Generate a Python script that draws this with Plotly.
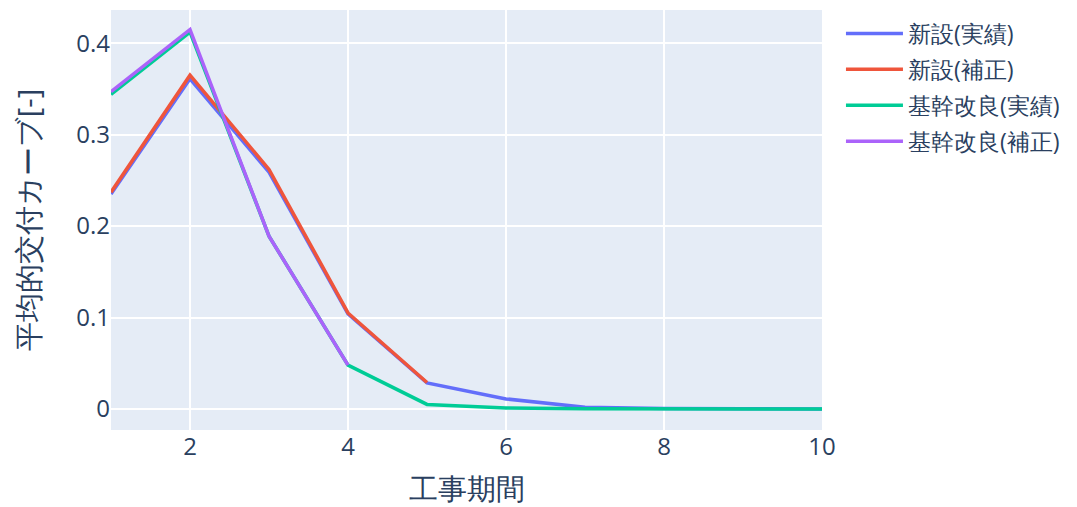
import plotly.graph_objects as go

x_new = [1, 2, 3, 4, 5, 6, 7, 8, 9, 10]
new_actual = [0.235, 0.361, 0.259, 0.104, 0.0284, 0.011, 0.002, 0.0006, 0.0002, 0.0]
x_new_corr = [1, 2, 3, 4, 5]
new_corr = [0.237, 0.365, 0.262, 0.105, 0.029]
x_kk = [1, 2, 3, 4, 5, 6, 7, 8, 9, 10]
kk_actual = [0.344, 0.412, 0.189, 0.048, 0.005, 0.001, 0.0003, 0.0001, 0.0, 0.0]
x_kk_corr = [1, 2, 3, 4]
kk_corr = [0.347, 0.415, 0.189, 0.048]

LW = 3.5
fig = go.Figure()
fig.add_trace(go.Scatter(x=x_new, y=new_actual, mode="lines", name="新設(実績)", legendgroup="a",
                         line=dict(color="#636efa", width=LW)))
fig.add_trace(go.Scatter(x=x_new_corr, y=new_corr, mode="lines", name="新設(補正)", legendgroup="b",
                         line=dict(color="#EF553B", width=LW)))
fig.add_trace(go.Scatter(x=x_kk, y=kk_actual, mode="lines", name="基幹改良(実績)", legendgroup="c",
                         line=dict(color="#00cc96", width=LW)))
fig.add_trace(go.Scatter(x=x_kk_corr, y=kk_corr, mode="lines", name="基幹改良(補正)", legendgroup="d",
                         line=dict(color="#ab63fa", width=LW)))

fig.update_layout(
    width=1069, height=499,
    template="plotly",
    font=dict(size=24),
    margin=dict(l=103, r=255, t=2, b=77, autoexpand=False),
    legend=dict(font=dict(size=23), itemwidth=57, xref="container", yref="container",
                x=0.7792, xanchor="left", y=0.992, yanchor="top", tracegroupgap=3),
    xaxis=dict(title=dict(text="工事期間", standoff=26), automargin=False,
               dtick=2, range=[1, 10], gridwidth=2),
    yaxis=dict(title=dict(text="平均的交付カーブ[-]", standoff=49), automargin=False,
               dtick=0.1, range=[-0.023, 0.4363], gridwidth=2, zerolinewidth=2),
)
fig.write_html("out.html")
